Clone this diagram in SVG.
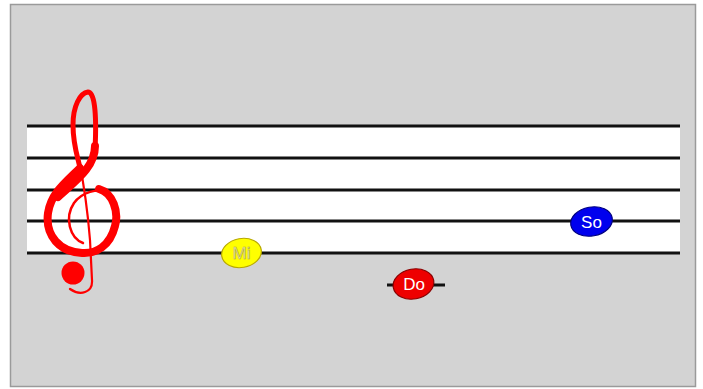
<svg xmlns="http://www.w3.org/2000/svg" width="703" height="389" viewBox="0 0 703 389">
<style>
.staff{stroke:#111;stroke-width:3;}
.clef{fill:none;stroke:#f00;stroke-linecap:round;stroke-linejoin:round;}
.note text{font-family:"Liberation Sans",Arial,sans-serif;font-size:17px;text-anchor:middle;}
</style>
<rect x="0" y="0" width="703" height="389" fill="#fff"/>
<rect x="10.5" y="4.5" width="685" height="382" fill="#d3d3d3" stroke="#9a9a9a" stroke-width="1.5"/>
<g id="staff">
<rect x="27" y="126" width="653" height="127" fill="#fff"/>
<line class="staff" x1="27" y1="126" x2="680" y2="126"/>
<line class="staff" x1="27" y1="158" x2="680" y2="158"/>
<line class="staff" x1="27" y1="190" x2="680" y2="190"/>
<line class="staff" x1="27" y1="221" x2="680" y2="221"/>
<line class="staff" x1="27" y1="253" x2="680" y2="253"/>
</g>
<g id="clef">
<path class="clef" stroke-width="2.5" d="M83 243 C70 238 64 218 74 203 C82 192 98 188 106 192"/>
<path class="clef" stroke-width="8" d="M99 189 C113 193 119 212 115 226 C110 246 96 254 82 253 C60 252 45 236 48 213 C51 193 66 182 80 168"/>
<path class="clef" stroke-width="8" d="M58 197 C74 182 95 168 95 146"/>
<path class="clef" stroke-width="5" d="M95 150 C97 110 94 92 88 92 C80 93 73 106 73 125 C73 145 78 158 80 168"/>
<path class="clef" stroke-width="2.2" d="M79 160 C84 185 88 215 90 240 L92 280 C93 293 80 296 70 289"/>
<circle cx="73" cy="273" r="11.5" fill="#f00"/>
</g>
<g id="ledger">
<line x1="387" y1="285" x2="445" y2="285" stroke="#111" stroke-width="3"/>
</g>
<g id="note-mi" class="note">
<ellipse cx="241.5" cy="253" rx="20" ry="14.5" transform="rotate(-10 241.5 253)" fill="#ffff00" stroke="#b8a800" stroke-width="1.2"/>
<text x="241.5" y="259" fill="#f4f0b0" stroke="#b0a840" stroke-width="0.6">Mi</text>
</g>
<g id="note-do" class="note">
<ellipse cx="413.5" cy="284" rx="20.5" ry="15" transform="rotate(-10 413.5 284)" fill="#ee0000" stroke="#800" stroke-width="1.2"/>
<text x="414" y="290" fill="#fff">Do</text>
</g>
<g id="note-so" class="note">
<ellipse cx="591.5" cy="221.5" rx="21" ry="14.5" transform="rotate(-10 591.5 221.5)" fill="#0000ee" stroke="#000080" stroke-width="1.2"/>
<text x="591.5" y="227.5" fill="#fff">So</text>
</g>
</svg>
